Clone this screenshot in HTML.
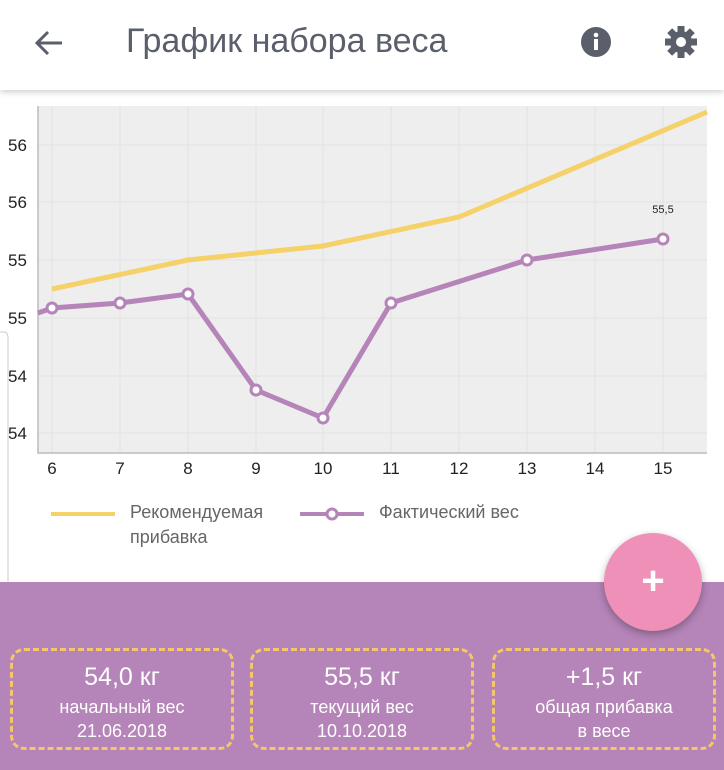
<!DOCTYPE html><html><head><meta charset="utf-8"><style>
body{margin:0;width:724px;height:770px;overflow:hidden;background:#fff;font-family:"Liberation Sans",sans-serif;position:relative}
.hdr{position:absolute;left:0;top:0;width:724px;height:90px;background:#fff;box-shadow:0 2px 6px rgba(0,0,0,.2)}
.title{position:absolute;left:126px;top:22px;font-size:34px;color:#5a5f6b}
.bot{position:absolute;left:0;top:582px;width:724px;height:188px;background:#b584b8}
.box{position:absolute;top:648px;width:218px;height:96px;border:3px dashed #f5c66a;border-radius:14px;color:#fff;text-align:center}
.box .a{font-size:25px;margin-top:12px}.box .b{font-size:18px;line-height:24px;margin-top:3px}
.fab{position:absolute;left:604px;top:533px;width:98px;height:98px;border-radius:50%;background:#ee90b8;box-shadow:0 3px 8px rgba(0,0,0,.3);color:#fff;font-size:40px;text-align:center;line-height:96px;font-weight:bold}
</style></head><body>
<div class="hdr">
<svg style="position:absolute;left:34px;top:30px" width="30" height="26"><path d="M28 13H4M14 2L3 13l11 11" stroke="#5a5f6b" stroke-width="3" fill="none"/></svg>
<div class="title">График набора веса</div>
<svg style="position:absolute;left:580px;top:26px" width="32" height="32"><circle cx="16" cy="16" r="15" fill="#5a5f6b"/><rect x="14" y="13" width="4" height="11" fill="#fff"/><circle cx="16" cy="9" r="2.3" fill="#fff"/></svg>
<svg style="position:absolute;left:664px;top:25px" width="34" height="34" viewBox="0 0 34 34"><g fill="#5a5f6b" transform="translate(17 17)"><circle r="11"/><g id="t"><rect x="-3.5" y="-16" width="7" height="8"/></g><use href="#t" transform="rotate(45)"/><use href="#t" transform="rotate(90)"/><use href="#t" transform="rotate(135)"/><use href="#t" transform="rotate(180)"/><use href="#t" transform="rotate(225)"/><use href="#t" transform="rotate(270)"/><use href="#t" transform="rotate(315)"/></g><circle cx="17" cy="17" r="5" fill="#fff"/></svg>
</div>
<svg style="position:absolute;left:0;top:0" width="724" height="582">
<rect x="38" y="106" width="669" height="347" fill="#efeeef"/>
<g stroke="#e2e2e2" stroke-width="1">
<line x1="52" y1="106" x2="52" y2="453"/><line x1="120" y1="106" x2="120" y2="453"/><line x1="188" y1="106" x2="188" y2="453"/><line x1="256" y1="106" x2="256" y2="453"/><line x1="323" y1="106" x2="323" y2="453"/><line x1="391" y1="106" x2="391" y2="453"/><line x1="459" y1="106" x2="459" y2="453"/><line x1="527" y1="106" x2="527" y2="453"/><line x1="595" y1="106" x2="595" y2="453"/><line x1="663" y1="106" x2="663" y2="453"/>
<line x1="38" y1="145" x2="707" y2="145"/><line x1="38" y1="202" x2="707" y2="202"/><line x1="38" y1="260" x2="707" y2="260"/><line x1="38" y1="318" x2="707" y2="318"/><line x1="38" y1="376" x2="707" y2="376"/><line x1="38" y1="433" x2="707" y2="433"/>
</g>
<path d="M38 106V453H707" stroke="#bbb" stroke-width="1.5" fill="none"/>
<g font-size="17" fill="#222" font-family="Liberation Sans"><text x="8" y="151">56</text><text x="8" y="208">56</text><text x="8" y="266">55</text><text x="8" y="324">55</text><text x="8" y="382">54</text><text x="8" y="439">54</text>
<g text-anchor="middle"><text x="52" y="474">6</text><text x="120" y="474">7</text><text x="188" y="474">8</text><text x="256" y="474">9</text><text x="323" y="474">10</text><text x="391" y="474">11</text><text x="459" y="474">12</text><text x="527" y="474">13</text><text x="595" y="474">14</text><text x="663" y="474">15</text></g></g>
<polyline points="52,289 188,260 323,246 459,217 707,112" fill="none" stroke="#f5d16a" stroke-width="5"/>
<polyline points="38,313 52,308 120,303 188,294 256,390 323,418 391,303 527,260 663,239" fill="none" stroke="#b584b8" stroke-width="5"/>
<g fill="#fff" stroke="#b584b8" stroke-width="3"><circle cx="52" cy="308" r="5"/><circle cx="120" cy="303" r="5"/><circle cx="188" cy="294" r="5"/><circle cx="256" cy="390" r="5"/><circle cx="323" cy="418" r="5"/><circle cx="391" cy="303" r="5"/><circle cx="527" cy="260" r="5"/><circle cx="663" cy="239" r="5"/></g>
<text x="663" y="213" font-size="11" text-anchor="middle" fill="#222">55,5</text>
<line x1="51" y1="514" x2="115" y2="514" stroke="#f5d16a" stroke-width="4"/>
<line x1="300" y1="514" x2="364" y2="514" stroke="#b584b8" stroke-width="4"/><circle cx="332" cy="514" r="5" fill="#fff" stroke="#b584b8" stroke-width="3"/>
<g font-size="18" fill="#666"><text x="130" y="518">Рекомендуемая</text><text x="130" y="543">прибавка</text><text x="379" y="518">Фактический вес</text></g>
<path d="M0 332H4Q8 332 8 338V622Q8 630 0 630" stroke="#ccc" fill="none"/>
</svg>
<div class="bot"></div>
<div class="fab">+</div>
<div class="box" style="left:10px"><div class="a">54,0 кг</div><div class="b">начальный вес<br>21.06.2018</div></div>
<div class="box" style="left:250px"><div class="a">55,5 кг</div><div class="b">текущий вес<br>10.10.2018</div></div>
<div class="box" style="left:492px"><div class="a">+1,5 кг</div><div class="b">общая прибавка<br>в весе</div></div>
</body></html>
